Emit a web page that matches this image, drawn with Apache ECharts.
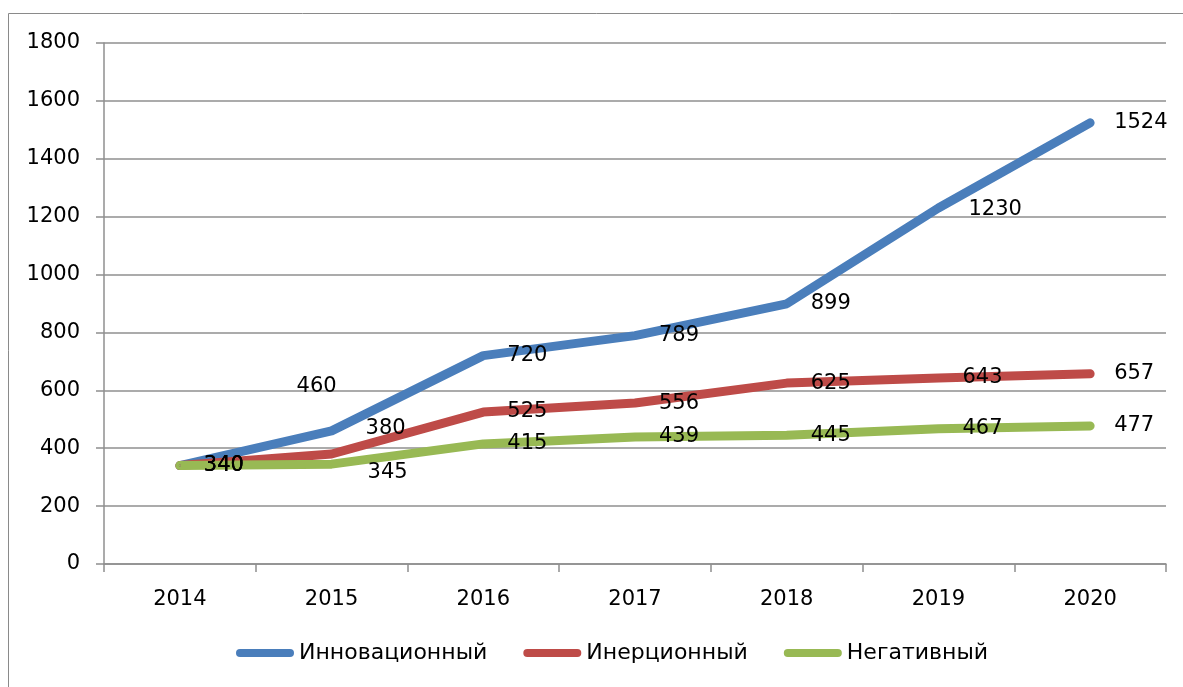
<!DOCTYPE html>
<html>
<head>
<meta charset="utf-8">
<script src="https://cdn.jsdelivr.net/npm/echarts@6/dist/echarts.min.js"></script>
<style>
  html, body { margin: 0; padding: 0; background: #fff; }
  #chart { width: 1183px; height: 687px; }
</style>
</head>
<body>
<div id="chart"></div>
<script>
var years = ['2014', '2015', '2016', '2017', '2018', '2019', '2020'];
var innovative = [340, 460, 720, 789, 899, 1230, 1524];
var inertial = [340, 380, 525, 556, 625, 643, 657];
var negative = [340, 345, 415, 439, 445, 467, 477];
var yTicks = [0, 200, 400, 600, 800, 1000, 1200, 1400, 1600, 1800];

var font = 'DejaVu Sans';
var gridColor = '#8f8f8f';

// метки, которые на рисунке сдвинуты вручную
function withOffsets(values, offsets) {
  return values.map(function (v, i) {
    if (offsets[i]) {
      return { value: v, label: { offset: offsets[i] } };
    }
    return v;
  });
}

function lineSeries(name, values, color, offsets) {
  return {
    name: name,
    type: 'line',
    data: withOffsets(values, offsets || {}),
    symbol: 'circle',
    symbolSize: 2,
    showSymbol: true,
    itemStyle: { color: color },
    lineStyle: { color: color, width: 9, cap: 'round', join: 'round' },
    label: {
      show: true,
      position: 'right',
      distance: 23,
      color: '#000',
      fontFamily: font,
      fontSize: 21
    },
    emphasis: { disabled: true },
    animation: false
  };
}

var chart = echarts.init(document.getElementById('chart'));
var option = {
  backgroundColor: '#fff',
  animation: false,
  graphic: [{
    type: 'rect',
    shape: { x: 8.5, y: 13.5, width: 1300, height: 800 },
    style: { fill: 'none', stroke: '#8a8a8a', lineWidth: 1 },
    silent: true
  }],
  grid: { left: 104, right: 17, top: 43, bottom: 123 },
  legend: {
    bottom: 18,
    left: 231,
    itemWidth: 58,
    itemHeight: 8,
    itemGap: 36,
    icon: 'path://M4,0H54A4,4,0,0,1,54,8H4A4,4,0,0,1,4,0Z',
    textStyle: { fontFamily: font, fontSize: 22, color: '#000' },
    data: ['Инновационный', 'Инерционный', 'Негативный']
  },
  xAxis: {
    type: 'category',
    data: years,
    boundaryGap: true,
    axisLine: { lineStyle: { color: gridColor, width: 1.5 } },
    axisTick: { show: true, length: 8, lineStyle: { color: gridColor, width: 1.5 } },
    axisLabel: { margin: 25, color: '#000', fontFamily: font, fontSize: 21 }
  },
  yAxis: {
    type: 'value',
    min: yTicks[0],
    max: yTicks[yTicks.length - 1],
    interval: yTicks[1] - yTicks[0],
    axisLine: { show: true, lineStyle: { color: gridColor, width: 1.5 } },
    axisTick: { show: true, length: 8, lineStyle: { color: gridColor, width: 1.5 } },
    splitLine: { lineStyle: { color: gridColor, width: 1.5 } },
    axisLabel: {
      margin: 24, color: '#000', fontFamily: font, fontSize: 21,
      formatter: function (v) { return String(v); }
    }
  },
  series: [
    lineSeries('Инновационный', innovative, '#4a7ebb', { 1: [-59, -44], 5: [6, 2] }),
    lineSeries('Инерционный', inertial, '#be4b48', { 1: [10, -25] }),
    lineSeries('Негативный', negative, '#98b954', { 1: [12, 8] })
  ]
};
chart.setOption(option);
</script>
</body>
</html>
